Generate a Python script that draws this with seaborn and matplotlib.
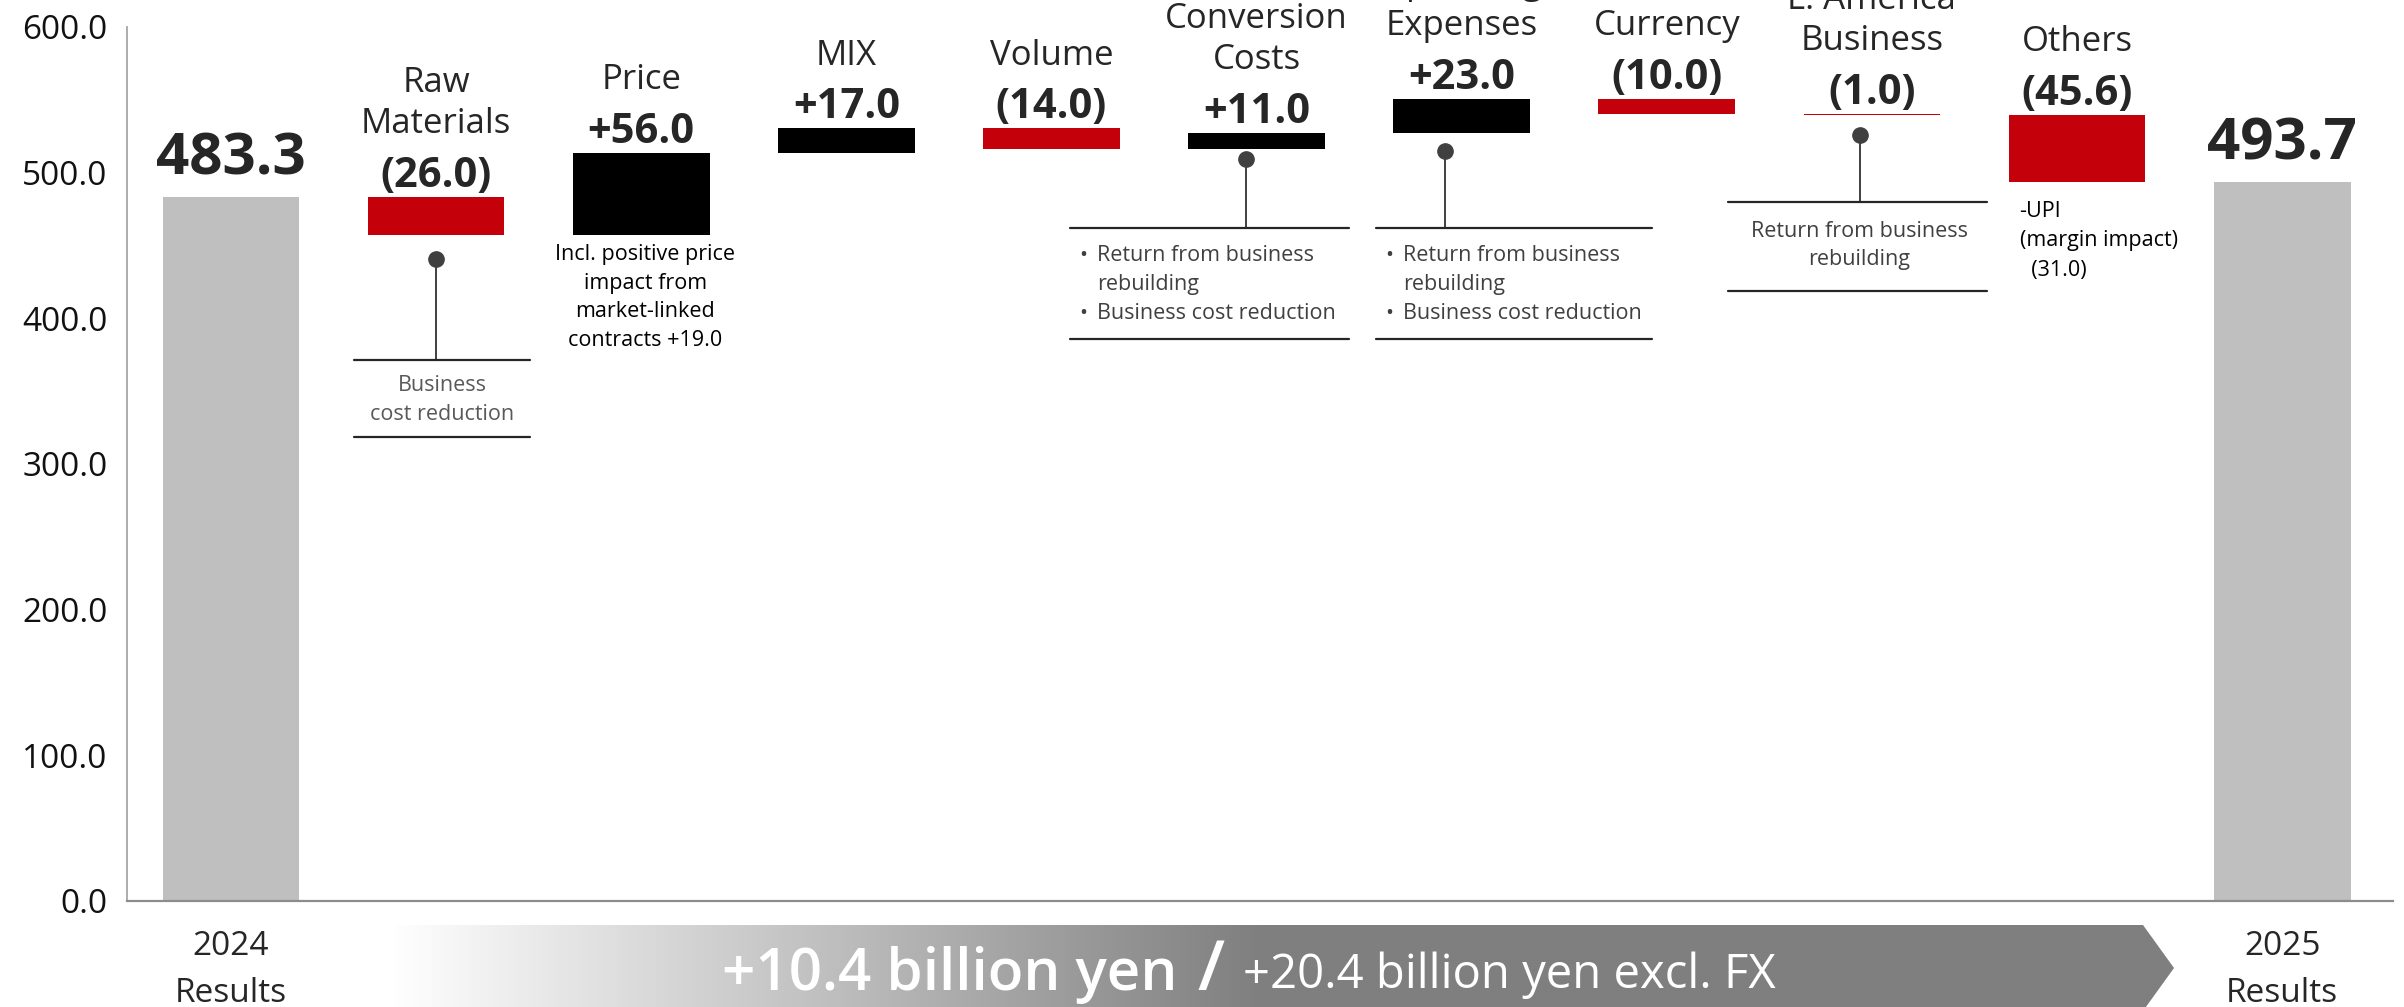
import numpy as np
import pandas as pd
import matplotlib
matplotlib.use("Agg")
import matplotlib.pyplot as plt
import seaborn as sns
from matplotlib.colors import LinearSegmentedColormap
from matplotlib.patches import Polygon

# ---- data ----
steps = ["2024 Results", "Raw Materials", "Price", "MIX", "Volume", "Conversion Costs",
         "Operating Expenses", "Currency", "L. America Business", "Others", "2025 Results"]
top_labels = ["", "Raw\nMaterials", "Price", "MIX", "Volume", "Conversion\nCosts",
              "Operating\nExpenses", "Currency", "L. America\nBusiness", "Others", ""]
start_value = 483.3
end_value = 493.7
deltas = [-26.0, 56.0, 17.0, -14.0, 11.0, 23.0, -10.0, -1.0, -45.6]
yticks = [0, 100, 200, 300, 400, 500, 600]
xtick_labels = ["2024\nResults", "", "", "", "", "", "", "", "", "", "2025\nResults"]

price_note = ["Incl. positive price", "impact from", "market-linked", "contracts +19.0"]
raw_note = ["Business", "cost reduction"]
cost_note = ["Return from business", "rebuilding", "Business cost reduction"]
latam_note = ["Return from business", "rebuilding"]
others_note = ["-UPI", "(margin impact)", "  (31.0)"]
headline = "+10.4 billion yen"
subline = "+20.4 billion yen excl. FX"

GREY, RED, BLACK = "#bfbfbf", "#c4000b", "#000000"

# waterfall table
levels = np.concatenate([[start_value], start_value + np.cumsum(deltas)])
bottoms = [0.0]
heights = [start_value]
colors = [GREY]
for i, d in enumerate(deltas):
    lo, hi = sorted([levels[i], levels[i + 1]])
    bottoms.append(lo)
    heights.append(hi - lo)
    colors.append(RED if d < 0 else BLACK)
bottoms.append(0.0)
heights.append(end_value)
colors.append(GREY)
tops = [b + h for b, h in zip(bottoms, heights)]
df = pd.DataFrame({"step": steps, "height": heights})

sns.set_theme(style="white")
plt.rcParams["font.family"] = ["Open Sans", "DejaVu Sans"]

fig = plt.figure(figsize=(24.04, 10.07), dpi=100)
ax = fig.add_axes([0.0528, 0.1053, 0.9426, 0.868])

sns.barplot(data=df, x="step", y="height", width=0.667, bottom=bottoms,
            color=GREY, linewidth=0, ax=ax)
for patch, c in zip(ax.patches, colors):
    patch.set_facecolor(c)
    patch.set_edgecolor(c)

ax.set_ylim(0, 600)
ax.set_xlim(-0.507, 10.54)
ax.set_yticks(yticks)
ax.set_yticklabels([f"{v:.1f}" for v in yticks])
ax.set_xticks(range(len(steps)))
ax.set_xticklabels(xtick_labels)
for t in ax.get_xticklabels():
    t.set_linespacing(1.55)
    t.set_color("#262626")
ax.tick_params(axis="y", length=0, pad=14, labelsize=24, labelcolor="#111111")
ax.tick_params(axis="x", length=0, pad=21, labelsize=24)
ax.set_xlabel("")
ax.set_ylabel("")
for s in ["top", "right"]:
    ax.spines[s].set_visible(False)
ax.spines["left"].set_color("#a6a6a6")
ax.spines["left"].set_linewidth(1.3)
ax.spines["bottom"].set_color("#8c8c8c")
ax.spines["bottom"].set_linewidth(1.6)

# labels above the bars
for i, top in enumerate(tops):
    if i in (0, len(tops) - 1):
        ax.annotate(f"{top:.1f}", (i, top), xytext=(0, 16), textcoords="offset points",
                    ha="center", va="baseline", fontsize=42, fontweight="bold",
                    annotation_clip=False)
        continue
    d = deltas[i - 1]
    val = f"({abs(d):.1f})" if d < 0 else f"+{d:.1f}"
    ax.annotate(val, (i, top), xytext=(0, 7.2), textcoords="offset points",
                ha="center", va="baseline", fontsize=30, fontweight="bold",
                annotation_clip=False)
    for k, line in enumerate(reversed(top_labels[i].split("\n"))):
        ax.annotate(line, (i, top), xytext=(0, 46 + 29.5 * k), textcoords="offset points",
                    ha="center", va="baseline", fontsize=25, annotation_clip=False)

NOTE_FS = 15.5


def lollipop(x_dot, y_dot, y_rule, x0, x1, y_rule2):
    ax.plot([x_dot, x_dot], [y_dot, y_rule], color="#404040", lw=1.4, zorder=3)
    ax.plot([x_dot], [y_dot], marker="o", ms=11, color="#404040", zorder=4)
    ax.plot([x0, x1], [y_rule, y_rule], color="#262626", lw=1.6, zorder=3)
    ax.plot([x0, x1], [y_rule2, y_rule2], color="#262626", lw=1.6, zorder=3)


# Raw materials
lollipop(1.0, 441, 371, 0.60, 1.46, 318.5)
for line, y in zip(raw_note, [354, 334]):
    ax.text(1.03, y, line, ha="center", va="center", fontsize=NOTE_FS, color="#595959")

# Price
for line, y in zip(price_note, [443.7, 423.7, 404.8, 385]):
    ax.text(2.02, y, line, ha="center", va="center", fontsize=NOTE_FS, color="black")

# Conversion costs and operating expenses
for x_dot, y_dot, x0, x1 in [(4.95, 509, 4.09, 5.45), (5.92, 515, 5.58, 6.93)]:
    lollipop(x_dot, y_dot, 462, x0, x1, 386)
    xt = x0 + 0.045
    ax.text(xt, 443, "•", ha="left", va="center", fontsize=NOTE_FS, color="#404040")
    ax.text(xt, 403, "•", ha="left", va="center", fontsize=NOTE_FS, color="#404040")
    for line, y in zip(cost_note, [443, 423, 403]):
        ax.annotate(line, (xt, y), xytext=(13, 0), textcoords="offset points",
                    ha="left", va="center", fontsize=NOTE_FS, color="#404040")

# L. America
lollipop(7.94, 526, 480, 7.30, 8.56, 419)
for line, y in zip(latam_note, [459.5, 440.6]):
    ax.text(7.94, y, line, ha="center", va="center", fontsize=NOTE_FS, color="#404040")

# Others
for line, y in zip(others_note, [473, 453.5, 433]):
    ax.text(8.72, y, line, ha="left", va="center", fontsize=NOTE_FS, color="black")

# ---- bottom gradient arrow ----
ov = fig.add_axes([0, 0, 1, 1], zorder=5)
ov.axis("off")
ov.patch.set_alpha(0)
arrow = Polygon([(391, 925), (2143, 925), (2174, 968), (2143, 1011), (391, 1011)],
                closed=True, facecolor="none", edgecolor="none")
ov.add_patch(arrow)
cmap = LinearSegmentedColormap.from_list("fade", ["#ffffff", "#7f7f7f"])
ramp = np.clip((np.arange(391, 2180) - 391) / (1260 - 391), 0, 1)[None, :]
img = ov.imshow(ramp, cmap=cmap, vmin=0, vmax=1, aspect="auto",
                extent=[391, 2180, 1011, 925], interpolation="bilinear")
img.set_clip_path(arrow)
ov.set_xlim(0, 2404)
ov.set_ylim(1007, 0)
ov.text(1177, 990, headline, ha="right", va="baseline", color="white",
        fontsize=42, fontweight="semibold")
ov.text(1211, 990, "/", ha="center", va="baseline", color="white",
        fontsize=50, fontweight="semibold")
ov.text(1243, 988, subline, ha="left", va="baseline", color="white", fontsize=34)

fig.savefig("out.png", dpi=100)
